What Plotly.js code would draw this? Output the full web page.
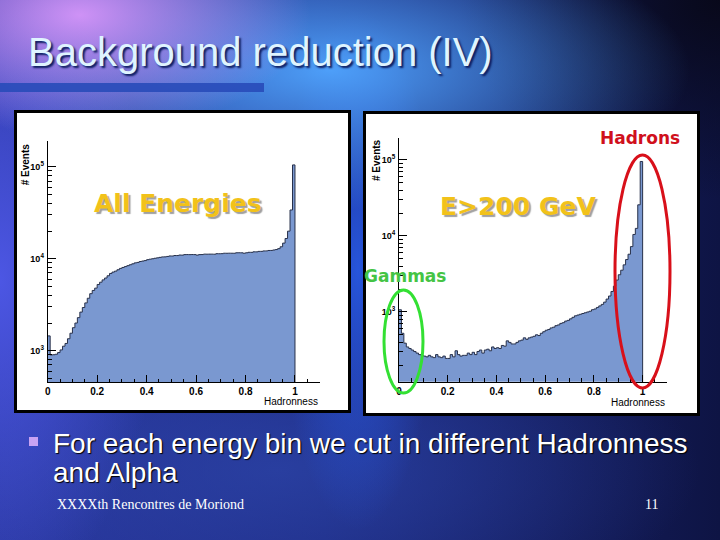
<!DOCTYPE html>
<html>
<head>
<meta charset="utf-8">
<script src="https://cdn.plot.ly/plotly-3.0.1.min.js"></script>
<style>
  body { margin: 0; background: #0c1038; }
  #graph {
    width: 720px; height: 540px;
    background:
      radial-gradient(ellipse 230px 120px at 80px 15px, rgba(215,150,250,0.95), rgba(215,150,250,0)),
      radial-gradient(ellipse 360px 140px at 330px 70px, rgba(80,165,255,0.95), rgba(80,165,255,0)),
      radial-gradient(ellipse 160px 320px at 0px 280px, rgba(80,90,235,0.9), rgba(80,90,235,0)),
      radial-gradient(ellipse 80px 260px at 358px 270px, rgba(40,90,230,0.9), rgba(40,90,230,0)),
      radial-gradient(ellipse 420px 160px at 280px 470px, rgba(45,70,170,0.7), rgba(45,70,170,0)),
      radial-gradient(ellipse 260px 200px at 720px 0px, rgba(8,8,24,0.95), rgba(8,8,24,0)),
      linear-gradient(to right, #2a36a0 0%, #1d2a82 45%, #0e1444 100%);
  }
</style>
</head>
<body>
<div id="graph"></div>
<script>
// Hadronness histograms, 100 bins of 0.01 (counts)
const binWidth = 0.01;

const allEnergies = [
    1450, 900, 905, 915, 955, 1020, 1120, 1200, 1350, 1550,
    1780, 2000, 2290, 2630, 2950, 3310, 3720, 4170, 4520, 4790,
    5250, 5560, 5890, 6170, 6530, 6920, 7160, 7330, 7590, 7850,
    8040, 8220, 8410, 8610, 8810, 9020, 9120, 9330, 9440, 9550,
    9770, 9890, 10000, 10120, 10230, 10350, 10470, 10480, 10590, 10720,
    10710, 10840, 10830, 10970, 10950, 11090, 11100, 11080, 11110, 11090,
    10960, 11090, 11100, 11220, 11210, 11230, 11220, 11200, 11350, 11340,
    11360, 11480, 11470, 11490, 11480, 11470, 11610, 11620, 11600, 11480,
    11610, 11750, 11740, 11890, 11880, 12020, 12030, 12160, 12170, 12300,
    12310, 12450, 12590, 12880, 13490, 14790, 16600, 19950, 33880, 104700
];

const highEnergy = [
    1070, 525, 389, 347, 331, 316, 302, 288, 275, 269,
    263, 257, 269, 257, 251, 275, 257, 251, 263, 245,
    245, 275, 257, 309, 275, 263, 269, 269, 288, 275,
    295, 275, 302, 316, 288, 316, 324, 309, 347, 331,
    339, 331, 363, 355, 417, 398, 380, 380, 398, 417,
    427, 457, 437, 457, 468, 479, 501, 490, 525, 550,
    575, 589, 617, 631, 661, 676, 708, 724, 759, 776,
    813, 851, 891, 912, 933, 955, 977, 1000, 1023, 1072,
    1096, 1148, 1202, 1259, 1349, 1479, 1622, 1862, 2188, 2630,
    3090, 3548, 4169, 4898, 5754, 7244, 10471, 12589, 25704, 95499
];

const xTickVals = [0, 0.2, 0.4, 0.6, 0.8, 1];
const xTickText = ['0', '0.2', '0.4', '0.6', '0.8', '1'];
const yTickVals = [1e3, 1e4, 1e5];
const yTickText = ['10<sup>3</sup>', '10<sup>4</sup>', '10<sup>5</sup>'];

const fillColor = 'rgb(122,152,208)';
const edgeColor = '#27304a';

// pixel helpers for slide layout (paper coords)
const W = 720, H = 540;
const px = (v) => v / W;
const py = (v) => 1 - v / H;

// filled step outline, closed below the axis floor so the plot area clips it
function histTrace(counts, xa, ya) {
    const n = counts.length;
    const xs = counts.map((c, i) => i * binWidth);
    const ys = counts.slice();
    xs.push(n * binWidth, n * binWidth, 0);
    ys.push(counts[n - 1], 1, 1);
    return {
        type: 'scatter', mode: 'lines', x: xs, y: ys,
        xaxis: xa, yaxis: ya,
        fill: 'toself', fillcolor: fillColor,
        line: { color: edgeColor, width: 1, shape: 'hv' },
        hoverinfo: 'skip'
    };
}

// minor log ticks 2..9 x 10^n
const minorLog = [];
for (let e = 2; e <= 5; e++) {
    for (let m = 2; m <= 9; m++) minorLog.push(m * Math.pow(10, e));
}

const sans = 'Liberation Sans, Arial, sans-serif';
const tickFont = { family: sans, size: 10, color: '#000', weight: 'bold' };

function xAxis(x0, x1, anchor) {
    return {
        domain: [px(x0), px(x1)], anchor: anchor, range: [0, 1.1],
        showline: true, linecolor: '#000', linewidth: 1, showgrid: false, zeroline: false,
        ticks: 'inside', ticklen: 7, tickcolor: '#000', tickwidth: 1,
        tickvals: xTickVals, ticktext: xTickText, tickfont: tickFont,
        minor: { ticks: 'inside', ticklen: 3.5, tickcolor: '#000', tickwidth: 1, dtick: 0.05, tick0: 0 }
    };
}

function yAxis(yBottom, yTop, lo, hi, anchor) {
    return {
        domain: [py(yBottom), py(yTop)], anchor: anchor, type: 'log', range: [lo, hi],
        showline: true, linecolor: '#000', linewidth: 1, showgrid: false, zeroline: false,
        ticks: 'inside', ticklen: 8, tickcolor: '#000', tickwidth: 1,
        tickvals: yTickVals, ticktext: yTickText,
        tickfont: { family: sans, size: 9, color: '#000', weight: 'bold' },
        ticklabelstandoff: 1,
        minor: { ticks: 'inside', ticklen: 4, tickcolor: '#000', tickwidth: 1, tickvals: minorLog }
    };
}

function note(text, x, y, opts) {
    return Object.assign({
        text: text, x: px(x), y: py(y), xref: 'paper', yref: 'paper',
        showarrow: false, xanchor: 'center', yanchor: 'middle'
    }, opts);
}

const boldLabel = (size, color) => ({ family: 'DejaVu Sans, Verdana, sans-serif', size: size, color: color, weight: 'bold' });
const serif = 'Liberation Serif, Times New Roman, serif';

const layout = {
    width: W, height: H,
    margin: { l: 0, r: 0, t: 0, b: 0 },
    paper_bgcolor: 'rgba(0,0,0,0)',
    plot_bgcolor: 'rgba(0,0,0,0)',
    showlegend: false,
    xaxis: xAxis(47.7, 319.7, 'y'),
    yaxis: yAxis(382, 141, 2.66, 5.28, 'x'),
    xaxis2: xAxis(399, 667, 'y2'),
    yaxis2: yAxis(381.7, 138.3, 2.083, 5.285, 'x2'),
    shapes: [
        // title underline bar
        { type: 'rect', xref: 'paper', yref: 'paper', x0: px(0), x1: px(264), y0: py(83), y1: py(92),
          fillcolor: 'rgba(40,75,185,0.9)', line: { width: 0 }, layer: 'below' },
        // white chart panels
        { type: 'rect', xref: 'paper', yref: 'paper', x0: px(15.5), x1: px(349.5), y0: py(111.5), y1: py(411.5),
          fillcolor: '#ffffff', line: { color: '#000', width: 3 }, layer: 'below' },
        { type: 'rect', xref: 'paper', yref: 'paper', x0: px(364.5), x1: px(698.5), y0: py(112.5), y1: py(414.5),
          fillcolor: '#ffffff', line: { color: '#000', width: 3 }, layer: 'below' },
        // bullet
        { type: 'rect', xref: 'paper', yref: 'paper', x0: px(29), x1: px(38), y0: py(437), y1: py(446),
          fillcolor: '#c9a3f3', line: { width: 0 } },
        // gammas / hadrons ellipses
        { type: 'circle', xref: 'paper', yref: 'paper', x0: px(384), x1: px(423), y0: py(290), y1: py(393),
          line: { color: '#33e033', width: 3 } },
        { type: 'circle', xref: 'paper', yref: 'paper', x0: px(615), x1: px(670), y0: py(155), y1: py(388),
          line: { color: '#d8101a', width: 3 } }
    ],
    annotations: [
        note('Background reduction (IV)', 26, 52, { xanchor: 'left',
            font: { family: sans, size: 40, color: '#dff4ff', shadow: '2px 2px 2px #0d1d60' } }),
        note('All Energies', 178, 203, { font: Object.assign(boldLabel(25, '#f2c21a'), { shadow: '2px 2px 1px #a0a0a0' }) }),
        note('E>200 GeV', 518, 206, { font: Object.assign(boldLabel(25, '#f2c21a'), { shadow: '2px 2px 1px #a0a0a0' }) }),
        note('Hadrons', 640, 138, { font: boldLabel(17, '#d0101c') }),
        note('Gammas', 405, 276, { font: boldLabel(17, '#44c444') }),
        note('# Events', 25.3, 164, { textangle: -90, font: tickFont }),
        note('# Events', 376, 160, { textangle: -90, font: tickFont }),
        note('Hadronness', 320, 401, { xanchor: 'right', font: { family: sans, size: 10, color: '#000' } }),
        note('Hadronness', 667, 402, { xanchor: 'right', font: { family: sans, size: 10, color: '#000' } }),
        note('For each energy bin we cut in different Hadronness', 51, 443, { xanchor: 'left',
            font: { family: sans, size: 28, color: '#ffffff', shadow: '1px 1px 1px #000' } }),
        note('and Alpha', 51, 472, { xanchor: 'left',
            font: { family: sans, size: 28, color: '#ffffff', shadow: '1px 1px 1px #000' } }),
        note('XXXXth Rencontres de Moriond', 55, 504, { xanchor: 'left',
            font: { family: serif, size: 14, color: '#ffffff' } }),
        note('11', 651, 504, { font: { family: serif, size: 14, color: '#ffffff' } })
    ]
};

const data = [histTrace(allEnergies, 'x', 'y'), histTrace(highEnergy, 'x2', 'y2')];

Plotly.newPlot('graph', data, layout, { staticPlot: true, displayModeBar: false });
</script>
</body>
</html>
